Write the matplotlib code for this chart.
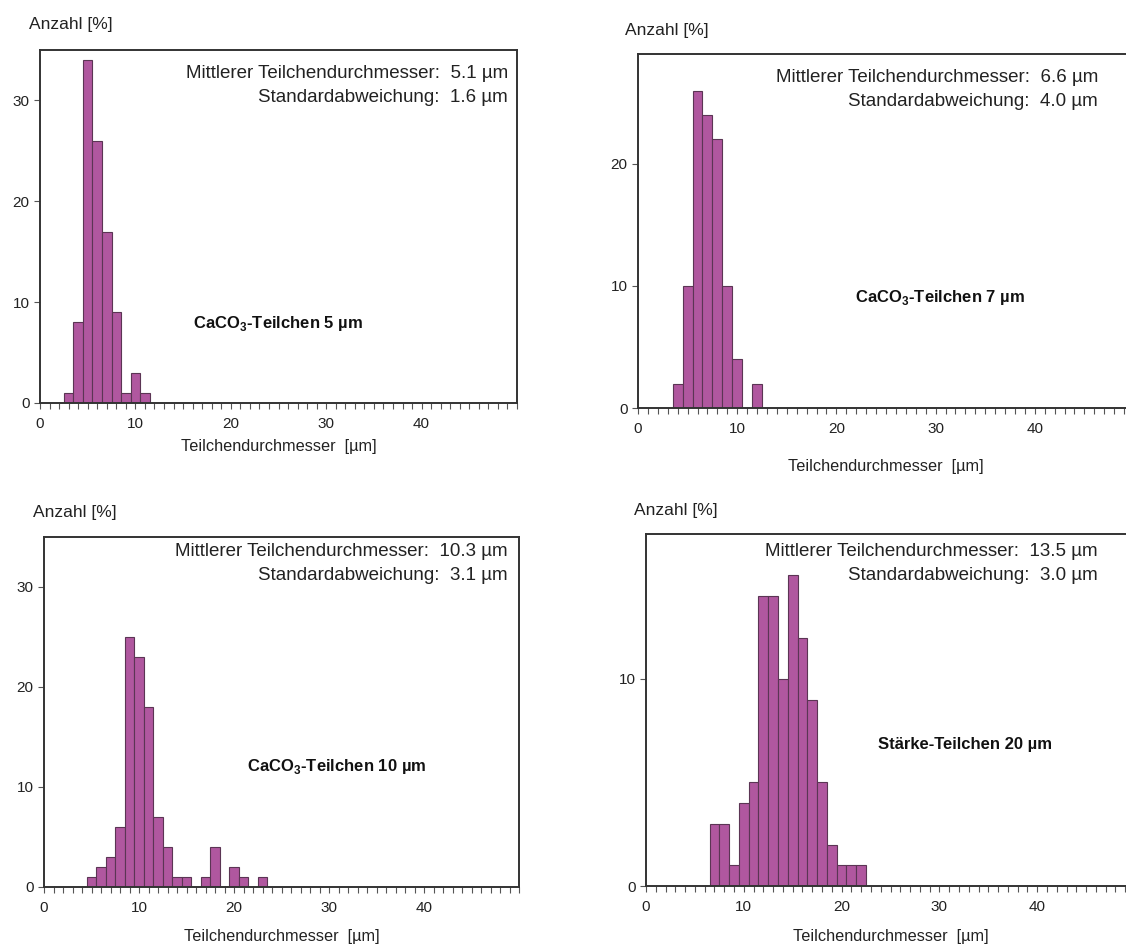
'''
Partikelgroessenverteilung - 4 Histogramme
'''

import numpy as np
import matplotlib
matplotlib.use('Agg')
import matplotlib.pyplot as plt

plt.rcParams['font.family'] = ['Liberation Sans', 'DejaVu Sans']
plt.rcParams['mathtext.fontset'] = 'custom'
plt.rcParams['mathtext.rm'] = 'Liberation Sans'
plt.rcParams['mathtext.bf'] = 'Liberation Sans:bold'

W, H = 1126, 949

# Klassenmitten [um] und Anzahl [%]
d_5um = [3, 4, 5, 6, 7, 8, 9, 10, 11]
n_5um = [1, 8, 34, 26, 17, 9, 1, 3, 1]

d_7um = [4, 5, 6, 7, 8, 9, 10, 11, 12]
n_7um = [2, 10, 26, 24, 22, 10, 4, 0, 2]

d_10um = list(range(5, 24))
n_10um = [1, 2, 3, 6, 25, 23, 18, 7, 4, 1, 1, 0, 1, 4, 0, 2, 1, 0, 1]

d_staerke = list(range(7, 23))
n_staerke = [3, 3, 1, 4, 5, 14, 14, 10, 15, 12, 9, 5, 2, 1, 1, 1]

titles = [r'CaCO$_\mathbf{3}$-Teilchen 5 µm', r'CaCO$_\mathbf{3}$-Teilchen 7 µm',
          r'CaCO$_\mathbf{3}$-Teilchen 10 µm', 'Stärke-Teilchen 20 µm']
mean_d = ['5.1', '6.6', '10.3', '13.5']
std_d = ['1.6', '4.0', '3.1', '3.0']
yticks = [[0, 10, 20, 30], [0, 10, 20], [0, 10, 20, 30], [0, 10]]
ymax = [35, 29, 35, 17]

# layout in pixels: left, top, right, bottom, title pos, stats pos, ylabel pos, xlabel y
layout = [
    dict(box=(40, 50, 517, 403), title=(278, 323), stats=(508, 73), ylab=(29, 24), xlab_y=446),
    dict(box=(638, 54, 1134, 408), title=(940, 298), stats=(1098, 78), ylab=(625, 30), xlab_y=466),
    dict(box=(44, 537, 519, 887), title=(337, 767), stats=(508, 552), ylab=(33, 513), xlab_y=936),
    dict(box=(646, 534, 1135, 886), title=(965, 745), stats=(1098, 552), ylab=(634, 510), xlab_y=936),
]

data = [(d_5um, n_5um), (d_7um, n_7um), (d_10um, n_10um), (d_staerke, n_staerke)]

fig = plt.figure(figsize=(W / 100, H / 100), dpi=100)


def fx(x):
    return x / W


def fy(y):
    return 1 - y / H


for i, ((d, n), lay) in enumerate(zip(data, layout)):
    l, t, r, b = lay['box']
    ax = fig.add_axes([fx(l), fy(b), (r - l) / W, (b - t) / H])
    ax.bar(d, n, width=1.0, color='#b0579f', edgecolor='#5b3554', linewidth=0.8)
    ax.set_xlim(0, 50)
    ax.set_ylim(0, ymax[i])
    ax.set_xticks([0, 10, 20, 30, 40])
    ax.set_xticks(np.arange(0, 51, 1), minor=True)
    ax.set_yticks(yticks[i])
    ax.tick_params(axis='both', which='both', direction='out', length=4,
                   width=0.8, color='#555555', labelsize=11, labelcolor='#222222')
    ax.tick_params(axis='x', pad=6)
    for s in ax.spines.values():
        s.set_color('#333333')
        s.set_linewidth(1.4)

    cx = (l + r) / 2
    fig.text(fx(cx), fy(lay['xlab_y']), 'Teilchendurchmesser  [µm]', ha='center', va='center',
             fontsize=11.7, color='#222222')
    fig.text(fx(lay['ylab'][0]), fy(lay['ylab'][1]), 'Anzahl [%]', ha='left', va='center',
             fontsize=12.5, color='#222222')
    sx, sy = lay['stats']
    fig.text(fx(sx), fy(sy), f'Mittlerer Teilchendurchmesser:  {mean_d[i]} µm', ha='right',
             va='center', fontsize=13.5, color='#222222')
    fig.text(fx(sx), fy(sy + 24), f'Standardabweichung:  {std_d[i]} µm', ha='right',
             va='center', fontsize=13.5, color='#222222')
    tx, ty = lay['title']
    fig.text(fx(tx), fy(ty), titles[i], ha='center', va='center', fontsize=12,
             fontweight='bold', color='#111111')

plt.savefig('out.png', dpi=100)
